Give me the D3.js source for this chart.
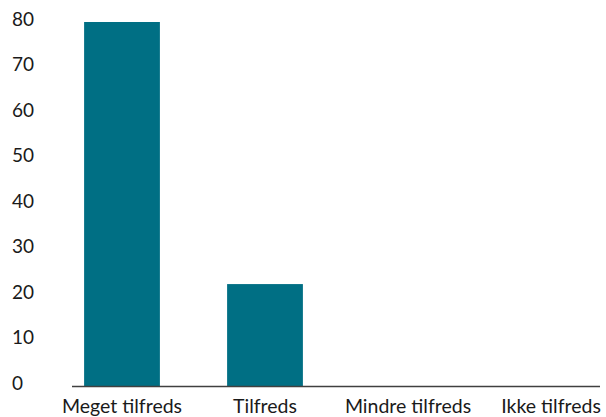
<!DOCTYPE html>
<html><head><meta charset="utf-8">
<script src="https://cdn.jsdelivr.net/npm/d3@7"></script>
<style>body{margin:0;background:#fff}svg{display:block}text{font-family:Lato,"Open Sans",sans-serif;fill:#1a1a1a}</style>
</head><body><svg id="c" width="606" height="417"></svg>
<script>
const categories = ["Meget tilfreds","Tilfreds","Mindre tilfreds","Ikke tilfreds"];
const values = [80, 22.4, 0, 0];
const yTicks = [0,10,20,30,40,50,60,70,80];

const svg = d3.select("#c");
const x = d3.scaleBand().domain(categories).range([50.5, 622.5]).paddingInner(0.47).paddingOuter(0.235);
const y = d3.scaleLinear().domain([0,80]).range([386,22]);

svg.selectAll("rect.bar").data(categories).join("rect")
  .attr("class","bar")
  .attr("x", d => x(d))
  .attr("width", x.bandwidth())
  .attr("y", (d,i) => y(values[i]))
  .attr("height", (d,i) => y(0) - y(values[i]))
  .attr("fill", "#006f84");

svg.append("line").attr("x1",72).attr("x2",600).attr("y1",y(0)+0.5).attr("y2",y(0)+0.5)
  .attr("stroke","#404040").attr("stroke-width",1.5);

svg.selectAll("text.yt").data(yTicks).join("text")
  .attr("class","yt").attr("x",12).attr("y",d=>y(d)-4)
  .attr("dominant-baseline","central")
  .style("font-size","19px").text(d=>d);

svg.selectAll("text.xt").data(categories).join("text")
  .attr("class","xt").attr("x",d=>x(d)+x.bandwidth()/2).attr("y",413)
  .attr("text-anchor","middle").style("font-size","19.5px").text(d=>d);
</script></body></html>
